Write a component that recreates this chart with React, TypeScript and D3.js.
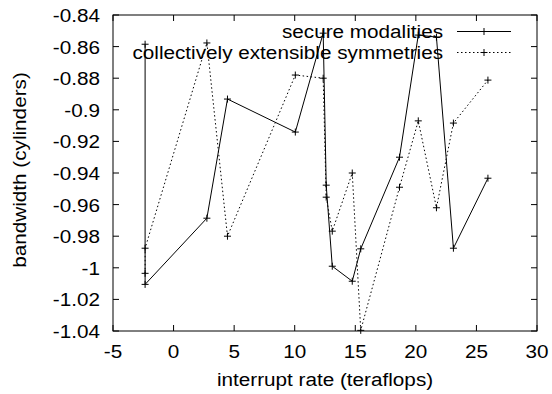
import React from "react";
import * as d3 from "d3";

const xValues = [-2.35, -2.35, 2.75, 4.45, 10.05, 12.35, 12.6, 13.1, 14.75, 15.45, 18.65, 20.2, 21.7, 23.1, 25.95];
const secureModalities = [-0.8585, -1.0105, -0.9686, -0.8932, -0.9141, -0.8515, -0.9477, -0.999, -1.0085, -0.988, -0.930, -0.8527, -0.854, -0.9876, -0.9433];
const extensibleSymmetries = [-1.0035, -0.9876, -0.8577, -0.980, -0.878, -0.880, -0.9553, -0.9768, -0.940, -1.0396, -0.949, -0.907, -0.962, -0.9084, -0.8812];
const xTicks = [-5, 0, 5, 10, 15, 20, 25, 30];
const yTicks = [-0.84, -0.86, -0.88, -0.9, -0.92, -0.94, -0.96, -0.98, -1, -1.02, -1.04];
const seriesNames = ["secure modalities", "collectively extensible symmetries"];

const W = 552, H = 394;
const L = 113, R = 537, T = 15, B = 331;
const FS = 19;
const SX = 1.09;
const FONT = "'Liberation Sans', Arial, sans-serif";

function T_(props: { x: number; y: number; anchor?: string; rotate?: boolean; children: any }) {
  const { x, y, anchor = "start", rotate = false, children } = props;
  const tr = rotate
    ? `translate(${x},${y}) rotate(-90) scale(${SX},1)`
    : `translate(${x},${y}) scale(${SX},1)`;
  return (
    <text transform={tr} textAnchor={anchor} fontFamily={FONT} fontSize={FS} fill="#000">
      {children}
    </text>
  );
}

export default function App() {
  const x = d3.scaleLinear().domain([-5, 30]).range([L, R]);
  const y = d3.scaleLinear().domain([-1.04, -0.84]).range([B, T]);
  const line = d3.line<[number, number]>().x((d) => x(d[0])).y((d) => y(d[1]));
  const s1: [number, number][] = xValues.map((v, i) => [v, secureModalities[i]]);
  const s2: [number, number][] = xValues.map((v, i) => [v, extensibleSymmetries[i]]);
  const tick = 6;
  const plus = (cx: number, cy: number, k: string) => (
    <path key={k} d={`M${cx - 3.5},${cy}H${cx + 3.5}M${cx},${cy - 3.5}V${cy + 3.5}`} stroke="#000" strokeWidth={1} />
  );
  const dash = "1.5,2.5";
  return (
    <svg width={W} height={H} style={{ position: "absolute", left: 0, top: 0, background: "#fff" }}>
      <rect x={0} y={0} width={W} height={H} fill="#fff" />
      {yTicks.map((t) => (
        <g key={"y" + t}>
          <line x1={L} x2={L + tick} y1={y(t)} y2={y(t)} stroke="#000" />
          <line x1={R} x2={R - tick} y1={y(t)} y2={y(t)} stroke="#000" />
          <T_ x={100} y={y(t) + 7} anchor="end">{String(t)}</T_>
        </g>
      ))}
      {xTicks.map((t) => (
        <g key={"x" + t}>
          <line x1={x(t)} x2={x(t)} y1={B} y2={B - tick} stroke="#000" />
          <line x1={x(t)} x2={x(t)} y1={T} y2={T + tick} stroke="#000" />
          <T_ x={x(t)} y={358} anchor="middle">{String(t)}</T_>
        </g>
      ))}
      <rect x={L} y={T} width={R - L} height={B - T} fill="none" stroke="#000" strokeWidth={1} />
      <T_ x={(L + R) / 2} y={386} anchor="middle">interrupt rate (teraflops)</T_>
      <T_ x={26} y={170} anchor="middle" rotate>bandwidth (cylinders)</T_>
      <path d={line(s1) || ""} fill="none" stroke="#000" strokeWidth={1} />
      {s1.map((d, i) => plus(x(d[0]), y(d[1]), "a" + i))}
      <path d={line(s2) || ""} fill="none" stroke="#000" strokeWidth={1} strokeDasharray={dash} />
      {s2.map((d, i) => plus(x(d[0]), y(d[1]), "b" + i))}
      <T_ x={443} y={38} anchor="end">{seriesNames[0]}</T_>
      <line x1={457} x2={511} y1={31.5} y2={31.5} stroke="#000" />
      {plus(484, 31.5, "l1")}
      <T_ x={443} y={59} anchor="end">{seriesNames[1]}</T_>
      <line x1={457} x2={511} y1={52.5} y2={52.5} stroke="#000" strokeDasharray={dash} />
      {plus(484, 52.5, "l2")}
    </svg>
  );
}
